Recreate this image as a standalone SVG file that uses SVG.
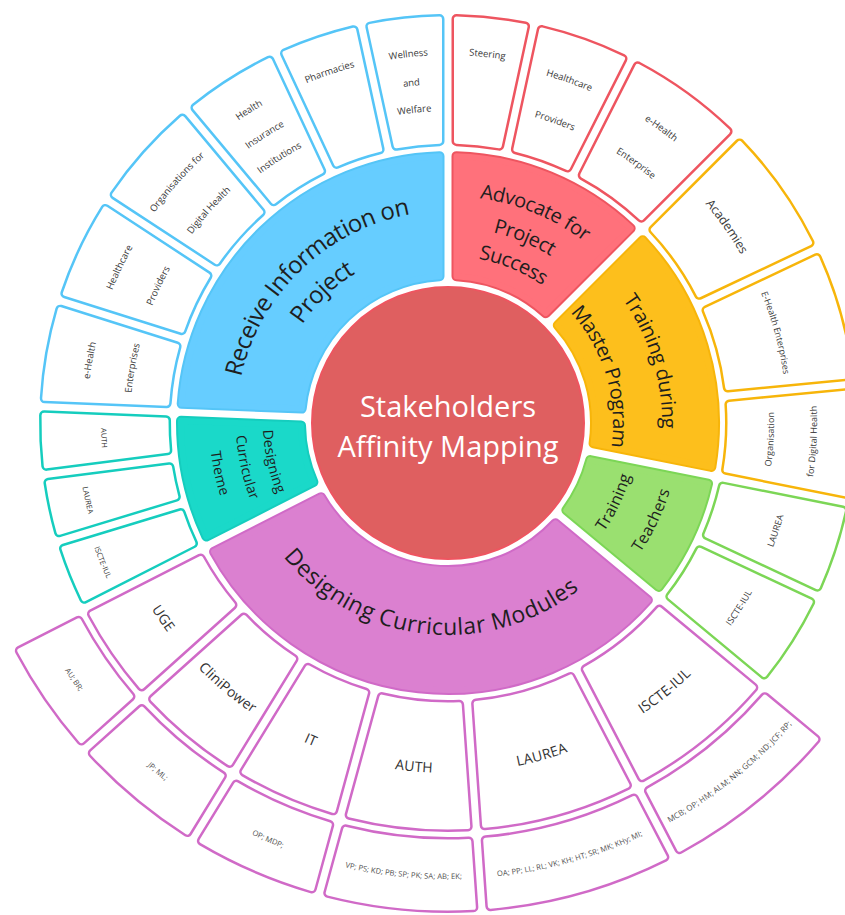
<svg xmlns="http://www.w3.org/2000/svg" width="845" height="915" viewBox="0 0 845 915">
<style>
text,textPath{font-family:"Open Sans","Noto Sans","Liberation Sans",sans-serif;text-anchor:middle;dominant-baseline:central}
.o{stroke-width:10;stroke-linejoin:round}
.i1{stroke-width:6;stroke-linejoin:round}
.i2{fill:#fff;stroke:#fff;stroke-width:5;stroke-linejoin:round}
.Bb{fill:#55C5F7;stroke:#55C5F7}.Bf{fill:#66CDFF;stroke:#66CDFF}
.Rb{fill:#EE5560;stroke:#EE5560}.Rf{fill:#FF717B;stroke:#FF717B}
.Yb{fill:#F7B50A;stroke:#F7B50A}.Yf{fill:#FDBF1C;stroke:#FDBF1C}
.Gb{fill:#7CD656;stroke:#7CD656}.Gf{fill:#9AE070;stroke:#9AE070}
.Mb{fill:#D06AC7;stroke:#D06AC7}.Mf{fill:#DB80D0;stroke:#DB80D0}
.Tb{fill:#15CDBE;stroke:#15CDBE}.Tf{fill:#1AD9C9;stroke:#1AD9C9}
.l1{fill:#1e1e1e}
.l2{fill:#3a3a3a;font-size:9.5px}
.l3{fill:#505050;font-size:7.6px}
.lm{fill:#333;font-size:14px}
.lt{fill:#333;font-size:7.5px}
.ctr{fill:#fff;font-size:29px;dominant-baseline:auto}
</style>
<defs>
<path id="k1B" d="M-95.54-111.72L-178.75-198.34A267 267 0 0 1 178.75-198.34L95.54-111.72A147 147 0 0 0-95.54-111.72Z"/>
<path id="k1R" d="M-48.31-138.84L-94.27-249.8A267 267 0 0 1 94.27-249.8L48.31-138.84A147 147 0 0 0-48.31-138.84Z"/>
<path id="k1Y" d="M-61.74-133.41L-118.41-239.31A267 267 0 0 1 118.41-239.31L61.74-133.41A147 147 0 0 0-61.74-133.41Z"/>
<path id="k1G" d="M-27.76-144.36L-57.22-260.8A267 267 0 0 1 57.22-260.8L27.76-144.36A147 147 0 0 0-27.76-144.36Z"/>
<path id="k1M" d="M-117.92-87.78L-218.25-153.81A267 267 0 0 1 218.25-153.81L117.92-87.78A147 147 0 0 0-117.92-87.78Z"/>
<path id="k1T" d="M-28.89-144.13L-59.27-260.34A267 267 0 0 1 59.27-260.34L28.89-144.13A147 147 0 0 0-28.89-144.13Z"/>
<path id="k2a" d="M-21.75-281.16L-34.82-402.5A404 404 0 0 1 34.82-402.5L21.75-281.16A282 282 0 0 0-21.75-281.16Z"/>
<path id="k2b" d="M-22.73-281.08L-36.23-402.37A404 404 0 0 1 36.23-402.37L22.73-281.08A282 282 0 0 0-22.73-281.08Z"/>
<path id="k2c" d="M-28.12-280.6L-43.94-401.6A404 404 0 0 1 43.94-401.6L28.12-280.6A282 282 0 0 0-28.12-280.6Z"/>
<path id="k2d" d="M-33.01-280.06L-50.95-400.78A404 404 0 0 1 50.95-400.78L33.01-280.06A282 282 0 0 0-33.01-280.06Z"/>
<path id="k2e" d="M-30.08-280.39L-46.75-401.29A404 404 0 0 1 46.75-401.29L30.08-280.39A282 282 0 0 0-30.08-280.39Z"/>
<path id="k2f" d="M-28.85-280.52L-45-401.49A404 404 0 0 1 45-401.49L28.85-280.52A282 282 0 0 0-28.85-280.52Z"/>
<path id="k2g" d="M-21.5-281.18L-34.47-402.53A404 404 0 0 1 34.47-402.53L21.5-281.18A282 282 0 0 0-21.5-281.18Z"/>
<path id="k2h" d="M-27.39-280.67L-42.89-401.72A404 404 0 0 1 42.89-401.72L27.39-280.67A282 282 0 0 0-27.39-280.67Z"/>
<path id="k2i" d="M-36.19-279.67L-55.49-400.17A404 404 0 0 1 55.49-400.17L36.19-279.67A282 282 0 0 0-36.19-279.67Z"/>
<path id="k2j" d="M-39.85-279.17L-60.72-399.41A404 404 0 0 1 60.72-399.41L39.85-279.17A282 282 0 0 0-39.85-279.17Z"/>
<path id="k2k" d="M-40.09-279.14L-61.07-399.36A404 404 0 0 1 61.07-399.36L40.09-279.14A282 282 0 0 0-40.09-279.14Z"/>
<path id="k2l" d="M-32.77-280.09L-50.6-400.82A404 404 0 0 1 50.6-400.82L32.77-280.09A282 282 0 0 0-32.77-280.09Z"/>
<path id="k2m" d="M-25.42-280.85L-40.09-402.01A404 404 0 0 1 40.09-402.01L25.42-280.85A282 282 0 0 0-25.42-280.85Z"/>
<path id="k2o" d="M-47.38-277.99L-71.5-397.62A404 404 0 0 1 71.5-397.62L47.38-277.99A282 282 0 0 0-47.38-277.99Z"/>
<path id="k2p" d="M-49.08-277.7L-73.93-397.18A404 404 0 0 1 73.93-397.18L49.08-277.7A282 282 0 0 0-49.08-277.7Z"/>
<path id="k2q" d="M-38.87-279.31L-59.33-399.62A404 404 0 0 1 59.33-399.62L38.87-279.31A282 282 0 0 0-38.87-279.31Z"/>
<path id="k2r" d="M-31.3-280.26L-48.5-401.08A404 404 0 0 1 48.5-401.08L31.3-280.26A282 282 0 0 0-31.3-280.26Z"/>
<path id="k2s" d="M-32.28-280.15L-49.9-400.91A404 404 0 0 1 49.9-400.91L32.28-280.15A282 282 0 0 0-32.28-280.15Z"/>
<path id="k2u" d="M-16.35-281.53L-27.09-403.09A404 404 0 0 1 27.09-403.09L16.35-281.53A282 282 0 0 0-16.35-281.53Z"/>
<path id="k2v" d="M-15.12-281.59L-25.33-403.21A404 404 0 0 1 25.33-403.21L15.12-281.59A282 282 0 0 0-15.12-281.59Z"/>
<path id="k3o" d="M-74.47-412.33L-87.52-477.04A485 485 0 0 1 87.52-477.04L74.47-412.33A419 419 0 0 0-74.47-412.33Z"/>
<path id="k3p" d="M-76.99-411.87L-90.43-476.5A485 485 0 0 1 90.43-476.5L76.99-411.87A419 419 0 0 0-76.99-411.87Z"/>
<path id="k3q" d="M-61.84-414.41L-72.91-479.49A485 485 0 0 1 72.91-479.49L61.84-414.41A419 419 0 0 0-61.84-414.41Z"/>
<path id="k3r" d="M-50.61-415.93L-59.91-481.29A485 485 0 0 1 59.91-481.29L50.61-415.93A419 419 0 0 0-50.61-415.93Z"/>
<path id="k3s" d="M-52.06-415.75L-61.59-481.07A485 485 0 0 1 61.59-481.07L52.06-415.75A419 419 0 0 0-52.06-415.75Z"/>
<path id="k3t" d="M-45.89-416.48L-54.45-481.93A485 485 0 0 1 54.45-481.93L45.89-416.48A419 419 0 0 0-45.89-416.48Z"/>
<path id="a235" d="M-203.52-117.5A235 235 0 0 1 203.52-117.5"/>
<path id="a222" d="M-192.26-111A222 222 0 0 1 192.26-111"/>
<path id="a204" d="M-176.67-102A204 204 0 0 1 176.67-102"/>
<path id="a186" d="M-161.08-93A186 186 0 0 1 161.08-93"/>
<path id="a175" d="M-151.55-87.5A175 175 0 0 1 151.55-87.5"/>
<path id="a173" d="M-149.82-86.5A173 173 0 0 1 149.82-86.5"/>
<path id="a372" d="M-322.16-186A372 372 0 0 1 322.16-186"/>
<path id="a365" d="M-316.1-182.5A365 365 0 0 1 316.1-182.5"/>
<path id="a343" d="M-297.05-171.5A343 343 0 0 1 297.05-171.5"/>
<path id="a322" d="M-278.86-161A322 322 0 0 1 278.86-161"/>
<path id="a316" d="M-273.66-158A316 316 0 0 1 273.66-158"/>
<path id="b184" d="M159.35-92A184 184 0 0 0-159.35-92"/>
<path id="b226" d="M195.72-113A226 226 0 0 0-195.72-113"/>
<path id="b203" d="M175.8-101.5A203 203 0 0 0-175.8-101.5"/>
<path id="b179" d="M155.02-89.5A179 179 0 0 0-155.02-89.5"/>
<path id="b206" d="M178.4-103A206 206 0 0 0-178.4-103"/>
<path id="b233" d="M201.78-116.5A233 233 0 0 0-201.78-116.5"/>
<path id="b322" d="M278.86-161A322 322 0 0 0-278.86-161"/>
<path id="b365" d="M316.1-182.5A365 365 0 0 0-316.1-182.5"/>
<path id="b344" d="M297.91-172A344 344 0 0 0-297.91-172"/>
<path id="b368" d="M318.7-184A368 368 0 0 0-318.7-184"/>
<path id="b372" d="M322.16-186A372 372 0 0 0-322.16-186"/>
<path id="b453" d="M392.31-226.5A453 453 0 0 0-392.31-226.5"/>
</defs>
<rect width="845" height="915" fill="#fff"/>

<g id="n-center">
<circle cx="448" cy="423" r="136" fill="#DF5F60" stroke="#EE5560" stroke-width="2"/>
<text class="ctr" x="448" y="416.7">Stakeholders</text>
<text class="ctr" x="448" y="456.7">Affinity Mapping</text>
</g>

<!-- Ring 1 -->
<g id="n-receive" transform="translate(448 423) rotate(316.15)">
<use href="#k1B" class="o Bb"/><use href="#k1B" class="i1 Bf"/>
<text class="l1" font-size="24"><textPath href="#a222" startOffset="50%">Receive Information on</textPath></text>
<text class="l1" font-size="24"><textPath href="#a186" startOffset="50%">Project</textPath></text>
</g>
<g id="n-advocate" transform="translate(448 423) rotate(22.5)">
<use href="#k1R" class="o Rb"/><use href="#k1R" class="i1 Rf"/>
<text class="l1" font-size="20"><textPath href="#a235" startOffset="50%">Advocate for</textPath></text>
<text class="l1" font-size="20"><textPath href="#a204" startOffset="50%">Project</textPath></text>
<text class="l1" font-size="20"><textPath href="#a175" startOffset="50%">Success</textPath></text>
</g>
<g id="n-training-master" transform="translate(448 423) rotate(73.15)">
<use href="#k1Y" class="o Yb"/><use href="#k1Y" class="i1 Yf"/>
<text class="l1" font-size="20"><textPath href="#a222" startOffset="50%">Training during</textPath></text>
<text class="l1" font-size="20"><textPath href="#a173" startOffset="50%">Master Program</textPath></text>
</g>
<g id="n-training-teachers" transform="translate(448 423) rotate(115.5)">
<use href="#k1G" class="o Gb"/><use href="#k1G" class="i1 Gf"/>
<text class="l1" font-size="16"><textPath href="#b184" startOffset="50%">Training</textPath></text>
<text class="l1" font-size="16"><textPath href="#b226" startOffset="50%">Teachers</textPath></text>
</g>
<g id="n-modules" transform="translate(448 423) rotate(186.35)">
<use href="#k1M" class="o Mb"/><use href="#k1M" class="i1 Mf"/>
<text class="l1" font-size="23"><textPath href="#b203" startOffset="50%">Designing Curricular Modules</textPath></text>
</g>
<g id="n-theme" transform="translate(448 423) rotate(257.65)">
<use href="#k1T" class="o Tb"/><use href="#k1T" class="i1 Tf"/>
<text class="l1" font-size="14"><textPath href="#b179" startOffset="50%">Designing</textPath></text>
<text class="l1" font-size="14"><textPath href="#b206" startOffset="50%">Curricular</textPath></text>
<text class="l1" font-size="14"><textPath href="#b233" startOffset="50%">Theme</textPath></text>
</g>

<!-- Ring 2: Receive Information on Project -->
<g id="n-wellness" transform="translate(448 423) rotate(353.85)">
<use href="#k2a" class="o Bb"/><use href="#k2a" class="i2"/>
<text class="l2"><textPath href="#a372" startOffset="50%">Wellness</textPath></text>
<text class="l2"><textPath href="#a343" startOffset="50%">and</textPath></text>
<text class="l2"><textPath href="#a316" startOffset="50%">Welfare</textPath></text>
</g>
<g id="n-pharmacies" transform="translate(448 423) rotate(341.35)">
<use href="#k2b" class="o Bb"/><use href="#k2b" class="i2"/>
<text class="l2"><textPath href="#a372" startOffset="50%">Pharmacies</textPath></text>
</g>
<g id="n-health-insurance" transform="translate(448 423) rotate(327.55)">
<use href="#k2c" class="o Bb"/><use href="#k2c" class="i2"/>
<text class="l2"><textPath href="#a372" startOffset="50%">Health</textPath></text>
<text class="l2"><textPath href="#a343" startOffset="50%">Insurance</textPath></text>
<text class="l2"><textPath href="#a316" startOffset="50%">Institutions</textPath></text>
</g>
<g id="n-org-digital-health" transform="translate(448 423) rotate(311.65)">
<use href="#k2d" class="o Bb"/><use href="#k2d" class="i2"/>
<text class="l2"><textPath href="#a365" startOffset="50%">Organisations for</textPath></text>
<text class="l2"><textPath href="#a322" startOffset="50%">Digital Health</textPath></text>
</g>
<g id="n-healthcare-providers-b" transform="translate(448 423) rotate(295.35)">
<use href="#k2e" class="o Bb"/><use href="#k2e" class="i2"/>
<text class="l2"><textPath href="#a365" startOffset="50%">Healthcare</textPath></text>
<text class="l2"><textPath href="#a322" startOffset="50%">Providers</textPath></text>
</g>
<g id="n-ehealth-enterprises-b" transform="translate(448 423) rotate(279.9)">
<use href="#k2f" class="o Bb"/><use href="#k2f" class="i2"/>
<text class="l2"><textPath href="#a365" startOffset="50%">e-Health</textPath></text>
<text class="l2"><textPath href="#a322" startOffset="50%">Enterprises</textPath></text>
</g>

<!-- Ring 2: Advocate -->
<g id="n-steering" transform="translate(448 423) rotate(6.1)">
<use href="#k2g" class="o Rb"/><use href="#k2g" class="i2"/>
<text class="l2"><textPath href="#a372" startOffset="50%">Steering</textPath></text>
</g>
<g id="n-healthcare-providers-r" transform="translate(448 423) rotate(19.5)">
<use href="#k2h" class="o Rb"/><use href="#k2h" class="i2"/>
<text class="l2"><textPath href="#a365" startOffset="50%">Healthcare</textPath></text>
<text class="l2"><textPath href="#a322" startOffset="50%">Providers</textPath></text>
</g>
<g id="n-ehealth-enterprise-r" transform="translate(448 423) rotate(35.9)">
<use href="#k2i" class="o Rb"/><use href="#k2i" class="i2"/>
<text class="l2"><textPath href="#a365" startOffset="50%">e-Health</textPath></text>
<text class="l2"><textPath href="#a322" startOffset="50%">Enterprise</textPath></text>
</g>

<!-- Ring 2: Training during Master Program -->
<g id="n-academies" transform="translate(448 423) rotate(54.85)">
<use href="#k2j" class="o Yb"/><use href="#k2j" class="i2"/>
<text class="l2" style="font-size:12.5px"><textPath href="#a343" startOffset="50%">Academies</textPath></text>
</g>
<g id="n-ehealth-enterprises-y" transform="translate(448 423) rotate(74.6)">
<use href="#k2k" class="o Yb"/><use href="#k2k" class="i2"/>
<text class="l2" style="font-size:9px"><textPath href="#a343" startOffset="50%">E-Health Enterprises</textPath></text>
</g>
<g id="n-org-digital-health-y" transform="translate(448 423) rotate(92.9)">
<use href="#k2l" class="o Yb"/><use href="#k2l" class="i2"/>
<text class="l2" style="font-size:9px"><textPath href="#b322" startOffset="50%">Organisation</textPath></text>
<text class="l2" style="font-size:9px"><textPath href="#b365" startOffset="50%">for Digital Health</textPath></text>
</g>

<!-- Ring 2: Training Teachers -->
<g id="n-laurea-g" transform="translate(448 423) rotate(108.2)">
<use href="#k2m" class="o Gb"/><use href="#k2m" class="i2"/>
<text class="l2" style="font-size:9px"><textPath href="#b344" startOffset="50%">LAUREA</textPath></text>
</g>
<g id="n-iscte-g" transform="translate(448 423) rotate(122.4)">
<use href="#k2h" class="o Gb"/><use href="#k2h" class="i2"/>
<text class="l2" style="font-size:9px"><textPath href="#b344" startOffset="50%">ISCTE-IUL</textPath></text>
</g>

<!-- Ring 2: Designing Curricular Modules -->
<g id="n-iscte-m" transform="translate(448 423) rotate(141.1)">
<use href="#k2o" class="o Mb"/><use href="#k2o" class="i2"/>
<text class="lm"><textPath href="#b344" startOffset="50%">ISCTE-IUL</textPath></text>
</g>
<g id="n-laurea-m" transform="translate(448 423) rotate(164.25)">
<use href="#k2p" class="o Mb"/><use href="#k2p" class="i2"/>
<text class="lm"><textPath href="#b344" startOffset="50%">LAUREA</textPath></text>
</g>
<g id="n-auth-m" transform="translate(448 423) rotate(185.65)">
<use href="#k2q" class="o Mb"/><use href="#k2q" class="i2"/>
<text class="lm"><textPath href="#b344" startOffset="50%">AUTH</textPath></text>
</g>
<g id="n-it" transform="translate(448 423) rotate(203.4)">
<use href="#k2r" class="o Mb"/><use href="#k2r" class="i2"/>
<text class="lm"><textPath href="#b344" startOffset="50%">IT</textPath></text>
</g>
<g id="n-clinipower" transform="translate(448 423) rotate(219.8)">
<use href="#k2s" class="o Mb"/><use href="#k2s" class="i2"/>
<text class="lm"><textPath href="#b344" startOffset="50%">CliniPower</textPath></text>
</g>
<g id="n-uge" transform="translate(448 423) rotate(235.55)">
<use href="#k2c" class="o Mb"/><use href="#k2c" class="i2"/>
<text class="lm"><textPath href="#b344" startOffset="50%">UGE</textPath></text>
</g>

<!-- Ring 2: Designing Curricular Theme -->
<g id="n-iscte-t" transform="translate(448 423) rotate(248.05)">
<use href="#k2u" class="o Tb"/><use href="#k2u" class="i2"/>
<text class="lt"><textPath href="#b372" startOffset="50%">ISCTE-IUL</textPath></text>
</g>
<g id="n-laurea-t" transform="translate(448 423) rotate(257.9)">
<use href="#k2v" class="o Tb"/><use href="#k2v" class="i2"/>
<text class="lt"><textPath href="#b368" startOffset="50%">LAUREA</textPath></text>
</g>
<g id="n-auth-t" transform="translate(448 423) rotate(267.5)">
<use href="#k2v" class="o Tb"/><use href="#k2v" class="i2"/>
<text class="lt"><textPath href="#b344" startOffset="50%">AUTH</textPath></text>
</g>

<!-- Ring 3 -->
<g id="n-iscte-people" transform="translate(448 423) rotate(141.1)">
<use href="#k3o" class="o Mb"/><use href="#k3o" class="i2"/>
<text class="l3" style="font-size:8px"><textPath href="#b453" startOffset="50%">MCB; OP; HM; ALM; NN; GCM; ND; JCF; RP;</textPath></text>
</g>
<g id="n-laurea-people" transform="translate(448 423) rotate(164.25)">
<use href="#k3p" class="o Mb"/><use href="#k3p" class="i2"/>
<text class="l3"><textPath href="#b453" startOffset="50%">OA; PP; LL; RL; VK; KH; HT; SR; MK; KHy; MI;</textPath></text>
</g>
<g id="n-auth-people" transform="translate(448 423) rotate(185.65)">
<use href="#k3q" class="o Mb"/><use href="#k3q" class="i2"/>
<text class="l3"><textPath href="#b453" startOffset="50%">VP; PS; KD; PB; SP; PK; SA; AB; EK;</textPath></text>
</g>
<g id="n-it-people" transform="translate(448 423) rotate(203.4)">
<use href="#k3r" class="o Mb"/><use href="#k3r" class="i2"/>
<text class="l3"><textPath href="#b453" startOffset="50%">OP; MDP;</textPath></text>
</g>
<g id="n-clinipower-people" transform="translate(448 423) rotate(219.8)">
<use href="#k3s" class="o Mb"/><use href="#k3s" class="i2"/>
<text class="l3"><textPath href="#b453" startOffset="50%">JP; ML;</textPath></text>
</g>
<g id="n-uge-people" transform="translate(448 423) rotate(235.55)">
<use href="#k3t" class="o Mb"/><use href="#k3t" class="i2"/>
<text class="l3"><textPath href="#b453" startOffset="50%">AU; BR;</textPath></text>
</g>
</svg>
